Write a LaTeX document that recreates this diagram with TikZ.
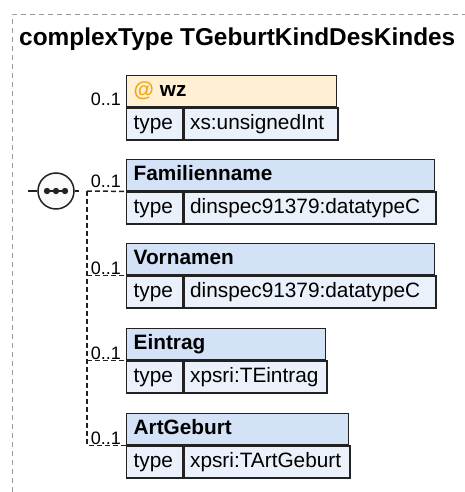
\documentclass[tikz,border=0pt]{standalone}
\usepackage{fontspec}
\setmainfont{Liberation Sans}
\usetikzlibrary{positioning}

\definecolor{hdrblue}{HTML}{D4E2F7}
\definecolor{rowblue}{HTML}{EAF1FB}
\definecolor{attrhdr}{HTML}{FFF0D4}
\definecolor{attrat}{HTML}{F2A516}
\definecolor{edge}{HTML}{222222}
\definecolor{framegray}{HTML}{9A9A9A}

\newcommand\boxfont{\fontsize{20.8}{24}\selectfont}

\tikzset{
  box/.style={draw=edge, line width=1.4pt, anchor=north west, inner xsep=7pt,
    inner ysep=0pt, minimum height=31pt, text height=15.5pt, text depth=4.5pt,
    align=left},
  hdr/.style={box, fill=hdrblue, text width=#1, font=\bfseries\boxfont},
  typ/.style={box, fill=rowblue, text width=42pt, minimum height=32pt, font=\boxfont},
  val/.style={box, fill=rowblue, inner xsep=6pt, text width=#1, minimum height=32pt,
    font=\boxfont},
  card/.style={anchor=base east, inner sep=0pt, font=\fontsize{18}{20}\selectfont},
  conn/.style={draw=edge, line width=1.5pt, dash pattern=on 5pt off 3pt},
}

\begin{document}
\begin{tikzpicture}[x=1pt,y=1pt]
\useasboundingbox (0,0) rectangle (465,-492);

% frame and title
\draw[framegray, line width=1pt, dash pattern=on 5pt off 4pt] (12,-492) -- (12,-15) -- (465,-15);
\node[anchor=base west, inner sep=0pt, font=\bfseries\fontsize{24.4}{28}\selectfont] (title) at (19,-46) {complexType TGeburtKindDesKindes};

% attribute
\node[box, fill=attrhdr, text width=196pt, font=\bfseries\boxfont] (wz) at (126,-75) {{\color{attrat}@}\hspace{6pt}wz};
\node[typ] (wztype) at (wz.south west) {type};
\node[val=142pt] (wzval) at (wztype.north east) {xs:unsignedInt};

% elements
\node[hdr=294pt] (fam) at (126,-159) {Familienname};
\node[typ] (famtype) at (fam.south west) {type};
\node[val=240pt] (famval) at (famtype.north east) {dinspec91379:datatypeC};

\node[hdr=294pt] (vor) at (126,-243) {Vornamen};
\node[typ] (vortype) at (vor.south west) {type};
\node[val=240pt] (vorval) at (vortype.north east) {dinspec91379:datatypeC};

\node[hdr=185pt] (ein) at (126,-328) {Eintrag};
\node[typ] (eintype) at (ein.south west) {type};
\node[val=131pt] (einval) at (eintype.north east) {xpsri:TEintrag};

\node[hdr=208pt] (art) at (126,-413) {ArtGeburt};
\node[typ] (arttype) at (art.south west) {type};
\node[val=154pt] (artval) at (arttype.north east) {xpsri:TArtGeburt};

% sequence
\node[draw=edge, line width=1.5pt, fill=white!98!black, circle, minimum size=36pt, inner sep=0pt] (seq) at (56,-191) {};
\draw[edge, line width=1.3pt] ([xshift=-11pt]seq.center) -- ([xshift=11pt]seq.center);
\foreach \dx in {-9,0,9}
  \fill[edge] ([xshift=\dx pt]seq.center) circle (3.2pt);
\coordinate (seqin) at (28,-191);
\coordinate (seqout) at (79,-191);
\coordinate (branch) at (87,-191);
\draw[edge, line width=1.5pt] (seqin) -- (seq.west);
\draw[edge, line width=1.5pt] (seq.east) -- (seqout);

\draw[conn] (branch) -- (fam.south west);
\draw[conn] (branch) -- (branch |- art.south west) -- (art.south west);
\draw[conn] (branch |- vor.south west) -- (vor.south west);
\draw[conn] (branch |- ein.south west) -- (ein.south west);

% cardinalities
\node[card] (wzcard) at ([xshift=-5pt,yshift=2pt]wz.south west) {0..1};
\node[card] (famcard) at ([xshift=-5pt,yshift=4pt]fam.south west) {0..1};
\node[card] (vorcard) at ([xshift=-5pt,yshift=1pt]vor.south west) {0..1};
\node[card] (eincard) at ([xshift=-5pt,yshift=1pt]ein.south west) {0..1};
\node[card] (artcard) at ([xshift=-5pt,yshift=1pt]art.south west) {0..1};
\end{tikzpicture}
\end{document}
